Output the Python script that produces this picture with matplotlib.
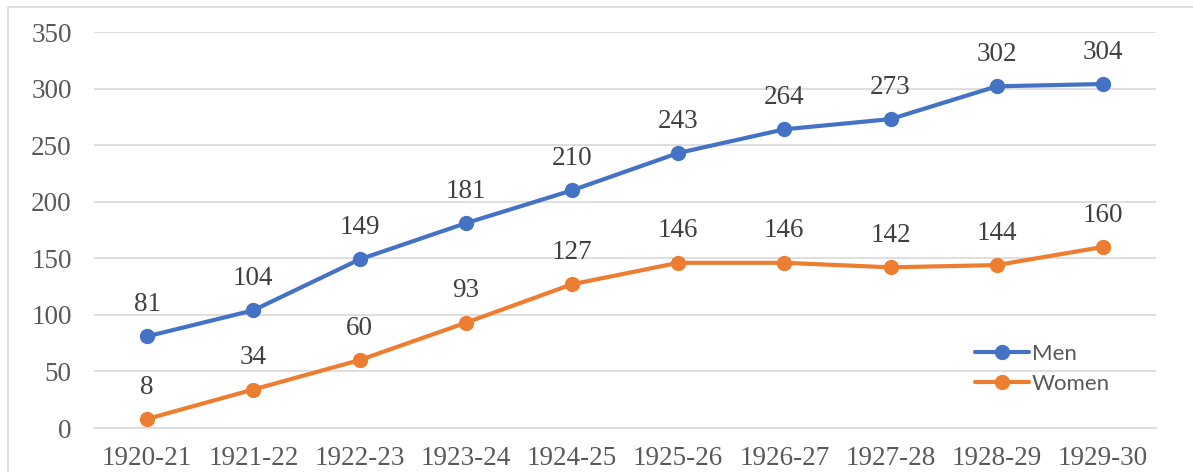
# Enrolment by year: men vs women, line chart with value labels
import matplotlib.pyplot as plt
from matplotlib.patches import Rectangle

years = ["1920-21", "1921-22", "1922-23", "1923-24", "1924-25",
         "1925-26", "1926-27", "1927-28", "1928-29", "1929-30"]
men = [81, 104, 149, 181, 210, 243, 264, 273, 302, 304]
women = [8, 34, 60, 93, 127, 146, 146, 142, 144, 160]

blue = "#4472C4"
orange = "#ED7D31"
text_grey = "#595959"

fig = plt.figure(figsize=(11.93, 4.72), dpi=100)
ax = fig.add_axes([0.0788, 0.0932, 0.8902, 0.8390])

# light frame round the whole chart
fig.patches.append(Rectangle((8 / 1193, -0.05), 1.1, 0.05 + 1 - 7 / 472,
                             transform=fig.transFigure, fill=False,
                             edgecolor="#D9D9D9", linewidth=1.2))

x = list(range(len(years)))
ax.plot(x, men, color=blue, linewidth=3, marker="o", markersize=10,
        label="Men", solid_capstyle="round", zorder=3)
ax.plot(x, women, color=orange, linewidth=3, marker="o", markersize=10,
        label="Women", solid_capstyle="round", zorder=3)

for xi, v in zip(x, men):
    ax.annotate(str(v), (xi, v), xytext=(0, 23), textcoords="offset points",
                ha="center", va="center", fontsize=19.5, family="Liberation Serif",
                color="#404040")
for xi, v in zip(x, women):
    ax.annotate(str(v), (xi, v), xytext=(0, 23), textcoords="offset points",
                ha="center", va="center", fontsize=19.5, family="Liberation Serif",
                color="#404040")

ax.set_xlim(-0.5, len(years) - 0.5)
ax.set_ylim(0, 350)
ax.set_yticks(range(0, 351, 50))
ax.set_xticks(x)
ax.set_xticklabels(years)
ax.grid(axis="y", color="#D9D9D9", linewidth=1.2)
ax.set_axisbelow(True)
for s in ["top", "right", "left"]:
    ax.spines[s].set_visible(False)
ax.spines["bottom"].set_color("#D9D9D9")
ax.spines["bottom"].set_linewidth(1.2)
ax.tick_params(length=0, labelsize=19.5, colors=text_grey)
ax.tick_params(axis="x", pad=13)
ax.tick_params(axis="y", pad=16)
for lab in ax.get_xticklabels() + ax.get_yticklabels():
    lab.set_family("Liberation Serif")

leg = ax.legend(loc="upper left", bbox_to_anchor=(0.81, 0.29),
                bbox_transform=fig.transFigure, frameon=False,
                prop={"family": "Lato", "size": 16}, handlelength=2.4,
                handletextpad=0.15, labelspacing=0.45, borderaxespad=0)
for t in leg.get_texts():
    t.set_color(text_grey)

fig.savefig("out.png", dpi=100)
